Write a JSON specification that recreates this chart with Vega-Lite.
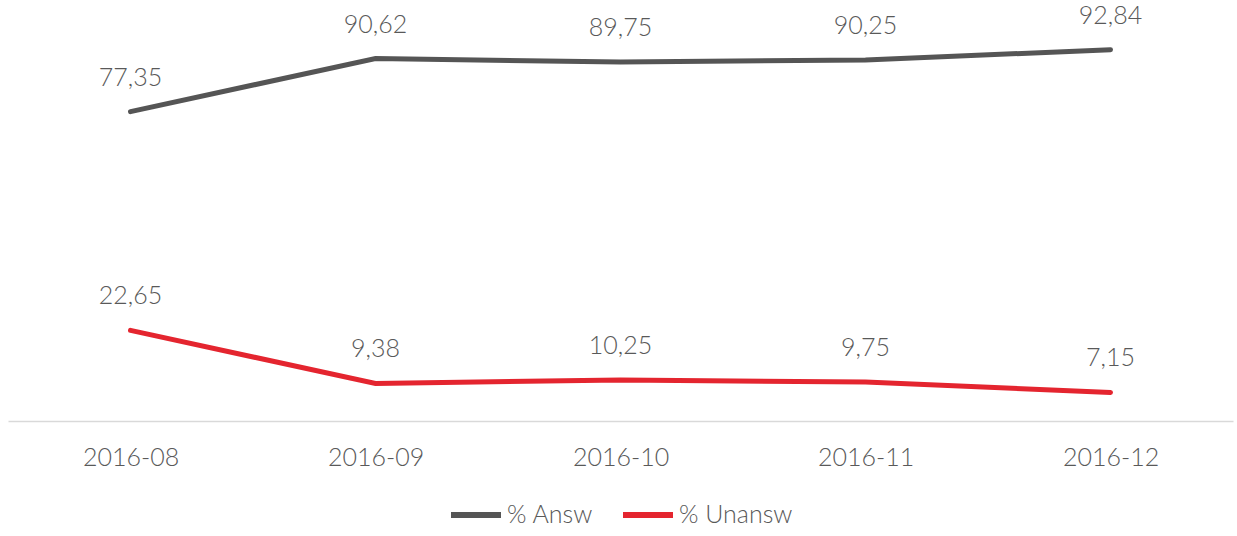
{
  "$schema": "https://vega.github.io/schema/vega-lite/v6.json",
  "width": 1225,
  "height": 400,
  "autosize": "none",
  "padding": {"left": 8, "top": 21, "right": 4, "bottom": 115},
  "config": {"view": {"stroke": null}, "font": "Lato"},
  "data": {"values": [
    {"month": "2016-08", "series": "% Answ", "value": 77.35, "label": "77,35"},
    {"month": "2016-09", "series": "% Answ", "value": 90.62, "label": "90,62"},
    {"month": "2016-10", "series": "% Answ", "value": 89.75, "label": "89,75"},
    {"month": "2016-11", "series": "% Answ", "value": 90.25, "label": "90,25"},
    {"month": "2016-12", "series": "% Answ", "value": 92.84, "label": "92,84"},
    {"month": "2016-08", "series": "% Unansw", "value": 22.65, "label": "22,65"},
    {"month": "2016-09", "series": "% Unansw", "value": 9.38, "label": "9,38"},
    {"month": "2016-10", "series": "% Unansw", "value": 10.25, "label": "10,25"},
    {"month": "2016-11", "series": "% Unansw", "value": 9.75, "label": "9,75"},
    {"month": "2016-12", "series": "% Unansw", "value": 7.15, "label": "7,15"}
  ]},
  "encoding": {
    "x": {"field": "month", "type": "ordinal", "scale": {"type": "point", "padding": 0.5},
      "axis": {"title": null, "labelAngle": 0, "ticks": false, "domainColor": "#d9d9d9", "domainWidth": 1.5,
        "labelFontSize": 25, "labelColor": "#595959", "labelFontWeight": 300, "labelPadding": 24}},
    "y": {"field": "value", "type": "quantitative", "scale": {"domain": [0, 100]}, "axis": null},
    "color": {"field": "series", "type": "nominal",
      "scale": {"domain": ["% Answ", "% Unansw"], "range": ["#555555", "#e4252f"]},
      "legend": {"title": null, "orient": "none", "direction": "horizontal", "legendX": 440, "legendY": 466,
        "symbolType": "stroke", "symbolSize": 2500, "symbolStrokeWidth": 6, "labelFontSize": 25,
        "labelColor": "#595959", "labelFontWeight": 300, "labelOffset": 3, "columnPadding": 17}}
  },
  "layer": [
    {"mark": {"type": "line", "strokeWidth": 5, "strokeCap": "round"}},
    {"mark": {"type": "text", "dy": -34, "fontSize": 25, "fontWeight": 300, "color": "#595959", "baseline": "middle"},
      "encoding": {"text": {"field": "label"}, "color": {"value": "#595959"}}}
  ]
}
